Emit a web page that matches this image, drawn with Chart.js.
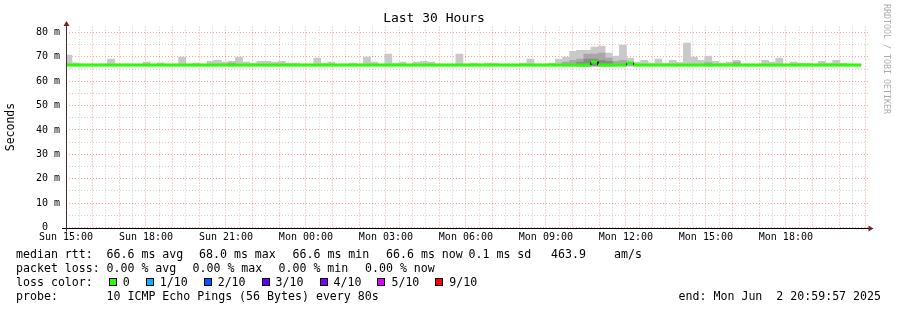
<!DOCTYPE html>
<html>
<head>
<meta charset="utf-8">
<title>Last 30 Hours</title>
<script src="https://cdn.jsdelivr.net/npm/chart.js@4.4.1/dist/chart.umd.min.js"></script>
<style>
  html, body { margin: 0; padding: 0; background: #fff; }
  #wrap { position: relative; width: 897px; height: 310px; overflow: hidden; }
  #c { position: absolute; left: 0; top: 0; }
  .mono { font-family: 'DejaVu Sans Mono', monospace; color: #000; white-space: pre; }
  .txt { position: absolute; font-size: 11.6px; line-height: 14px; }
  #lossrow { position: absolute; left: 16px; top: 275px; height: 14px; display: flex; align-items: center;
    font-size: 11.6px; line-height: 14px; }
  #lossrow .sq { display: inline-block; box-sizing: border-box; width: 8px; height: 8px;
    border: 1px solid #000; margin-left: 2px; margin-right: 6px; }
  #lossrow .lab { margin-right: 14px; }
  #side { position: absolute; left: 882px; top: 4px; font-size: 8.3px; line-height: 10px;
    color: #acacac; writing-mode: vertical-rl; }
</style>
</head>
<body>
<div id="wrap">
  <canvas id="c" width="897" height="310"></canvas>
  <div id="side" class="mono">RRDTOOL / TOBI OETIKER</div>
  <div id="lossrow" class="mono"></div>
</div>
<script>
// hours after Sun 15:00
const xTickHours = [0, 3, 6, 9, 12, 15, 18, 21, 24, 27]
const xTickLabels = ['Sun 15:00', 'Sun 18:00', 'Sun 21:00', 'Mon 00:00', 'Mon 03:00',
  'Mon 06:00', 'Mon 09:00', 'Mon 12:00', 'Mon 15:00', 'Mon 18:00']
const yTickValues = [0, 10, 20, 30, 40, 50, 60, 70, 80]
const yTickLabels = ['0  ', '10 m', '20 m', '30 m', '40 m', '50 m', '60 m', '70 m', '80 m']

// 16 minute bins, values in ms
const binStartHour = -0.045
const binHours = 16 / 60
const smokeFloor = 66.3
const smokeMax = [
  70.7, 67.5, 67.0, 67.0, 67.0, 67.0, 69.1, 67.0, 67.0, 67.0,
  67.0, 67.8, 67.0, 67.5, 67.0, 67.0, 69.9, 67.0, 67.4, 67.0,
  68.2, 68.6, 67.8, 68.2, 69.9, 67.8, 67.4, 68.2, 68.2, 67.8,
  68.2, 67.4, 67.4, 67.0, 67.0, 69.5, 67.4, 67.8, 67.0, 67.0,
  67.4, 67.0, 69.9, 67.8, 67.0, 71.1, 67.4, 67.8, 67.0, 67.8,
  68.2, 67.8, 67.0, 67.0, 67.0, 71.1, 67.0, 67.4, 67.0, 67.4,
  67.4, 67.0, 67.0, 67.0, 67.4, 69.1, 67.0, 67.0, 67.4, 69.1,
  69.9, 72.3, 72.7, 72.7, 74.0, 74.4, 71.5, 70.3, 74.8, 69.5,
  67.8, 68.6, 67.4, 69.1, 67.4, 68.6, 67.6, 75.6, 69.9, 68.6,
  70.3, 68.2, 67.4, 67.8, 68.6, 67.0, 67.0, 67.0, 68.6, 67.8,
  69.5, 67.0, 67.8, 67.4, 67.4, 67.0, 68.2, 67.4, 68.6, 67.4,
  67.0, 67.0
]
const midBins = [23, 70, 71, 72, 73, 74, 75, 76, 77, 78, 79, 90, 94]
const midTops = [67.4, 67.8, 68.6, 69.1, 71.1, 71.1, 71.5, 69.5, 68.2, 68.6, 67.4, 67.6, 67.8]
const coreBins = [72, 73, 74, 75, 76]
const coreTops = [67.8, 69.1, 69.1, 68.6, 68.2]
const medianRtt = [
  66.6, 66.6, 66.6, 66.6, 66.6, 66.6, 66.6, 66.6, 66.6, 66.6,
  66.6, 66.6, 66.6, 66.6, 66.6, 66.6, 66.6, 66.6, 66.6, 66.6,
  66.6, 66.6, 66.6, 66.6, 66.6, 66.6, 66.6, 66.6, 66.6, 66.6,
  66.6, 66.6, 66.6, 66.6, 66.6, 66.6, 66.6, 66.6, 66.6, 66.6,
  66.6, 66.6, 66.6, 66.6, 66.6, 66.6, 66.6, 66.6, 66.6, 66.6,
  66.6, 66.6, 66.6, 66.6, 66.6, 66.6, 66.6, 66.6, 66.6, 66.6,
  66.6, 66.6, 66.6, 66.6, 66.6, 66.6, 66.6, 66.6, 66.6, 66.6,
  66.6, 66.6, 66.6, 66.6, 68.0, 66.6, 66.6, 66.6, 66.6, 67.5,
  66.6, 66.6, 66.6, 66.6, 66.6, 66.6, 66.6, 66.6, 66.6, 66.6,
  66.6, 66.6, 66.6, 66.6, 66.6, 66.6, 66.6, 66.6, 66.6, 66.6,
  66.6, 66.6, 66.6, 66.6, 66.6, 66.6, 66.6, 66.6, 66.6, 66.6,
  66.6, 66.6
]

const rttStats = [66.6, 68.0, 66.6, 66.6]   // avg max min now
const rttSd = 0.1
const rttAmS = 463.9
const lossStats = [0, 0, 0, 0]
const lossLabels = ['0', '1/10', '2/10', '3/10', '4/10', '5/10', '9/10']
const lossColors = ['#26ff00', '#00b8ff', '#0059ff', '#5e00ff', '#7e00ff', '#dd00ff', '#ff0000']
const probeText = '10 ICMP Echo Pings (56 Bytes) every 80s'
const endText = 'end: Mon Jun  2 20:59:57 2025'

const FONT = "'DejaVu Sans Mono', monospace"
const edge = i => binStartHour + i * binHours
const mid = i => binStartHour + (i + 0.5) * binHours

const lightBars = smokeMax.map((v, i) => ({ x: mid(i), y: [smokeFloor, v] }))
const midBars = midBins.map((b, i) => ({ x: mid(b), y: [smokeFloor, midTops[i]] }))
const coreBars = coreBins.map((b, i) => ({ x: mid(b), y: [smokeFloor, coreTops[i]] }))

const medPts = []
medianRtt.forEach((v, i) => {
  medPts.push({ x: edge(i), y: v }, { x: edge(i + 1), y: v })
})
const isStep = c => Math.abs(c.p0.parsed.x - c.p1.parsed.x) < 1e-9 && c.p0.parsed.y !== c.p1.parsed.y

const gridRed = 'rgba(255,0,0,0.38)'
const gridGray = 'rgba(110,110,110,0.32)'

const bar = (data, color, order) => ({
  type: 'bar', data, backgroundColor: color, borderWidth: 0, grouped: false,
  barPercentage: 1, categoryPercentage: 1, order
})

const axesPlugin = {
  id: 'axes',
  afterDraw(chart) {
    const { ctx, chartArea: a } = chart
    const xl = Math.round(a.left) + 0.5
    const yb = Math.round(a.bottom) + 0.5
    ctx.save()
    ctx.lineWidth = 1
    ctx.strokeStyle = '#000'
    ctx.beginPath()
    ctx.moveTo(a.left - 4, yb)
    ctx.lineTo(a.right + 1, yb)
    ctx.stroke()
    ctx.strokeStyle = '#4a2a2a'
    ctx.beginPath()
    ctx.moveTo(xl, yb + 3)
    ctx.lineTo(xl, a.top - 1)
    ctx.stroke()
    ctx.fillStyle = '#7f1f1f'
    ctx.beginPath()
    ctx.moveTo(a.right + 0.5, yb - 3)
    ctx.lineTo(a.right + 5.5, yb)
    ctx.lineTo(a.right + 0.5, yb + 3)
    ctx.fill()
    ctx.beginPath()
    ctx.moveTo(xl - 3, a.top - 0.5)
    ctx.lineTo(xl, a.top - 5.5)
    ctx.lineTo(xl + 3, a.top - 0.5)
    ctx.fill()
    ctx.restore()
  }
}

new Chart(document.getElementById('c'), {
  data: {
    datasets: [
      {
        type: 'line', data: medPts, borderColor: '#26ff00', borderWidth: 3,
        pointRadius: 0, tension: 0, order: 0,
        segment: {
          borderColor: c => isStep(c) ? '#000' : undefined,
          borderWidth: c => isStep(c) ? 1 : undefined
        }
      },
      bar(coreBars, '#8a8a8a', 1),
      bar(midBars, '#a8a8a8', 2),
      bar(lightBars, '#c9c9c9', 3)
    ]
  },
  options: {
    responsive: false,
    animation: false,
    devicePixelRatio: 1,
    events: [],
    layout: { padding: { left: 0, right: 29, top: 0, bottom: 0 } },
    plugins: {
      legend: { display: false },
      tooltip: { enabled: false },
      title: {
        display: true, text: 'Last 30 Hours', color: '#000',
        font: { family: FONT, size: 13, weight: 'normal' },
        padding: { top: 11, bottom: 0 }
      }
    },
    scales: {
      x: {
        type: 'linear', min: 0, max: 30.08, bounds: 'data', offset: false,
        afterFit: s => { s.height = 82.5 },
        grid: { offset: false, color: c => c.tick && c.tick.value % 1 === 0 ? gridRed : gridGray, drawTicks: false, borderDash: [1, 2] },
        border: { display: false, dash: [1, 2] },
        ticks: {
          stepSize: 0.5, includeBounds: false, autoSkip: false, maxRotation: 0, padding: 4,
          color: '#000', font: { family: FONT, size: 10 },
          callback: v => { const k = xTickHours.indexOf(v); return k < 0 ? '' : xTickLabels[k] }
        }
      },
      y: {
        type: 'linear', min: 0, max: 82.4, bounds: 'data',
        afterFit: s => { s.width = 66 },
        grid: { color: c => c.tick && c.tick.value % 10 === 0 ? gridRed : gridGray, drawTicks: false, borderDash: [1, 2] },
        border: { display: false, dash: [1, 2] },
        title: {
          display: true, text: 'Seconds', color: '#000',
          font: { family: FONT, size: 11.5 }, padding: { top: 4, bottom: 0 }
        },
        ticks: {
          stepSize: 5, includeBounds: false, autoSkip: false, padding: 6,
          color: '#000', font: { family: FONT, size: 10 },
          callback: v => { const k = yTickValues.indexOf(v); return k < 0 ? '' : yTickLabels[k] }
        }
      }
    }
  },
  plugins: [axesPlugin]
})

// legend text below the graph, placed like rrdtool's justified GPRINT items
const f1 = v => v.toFixed(1)
const f2 = v => v.toFixed(2)
const wrap = document.getElementById('wrap')
const put = (text, left, top, right) => {
  const d = document.createElement('div')
  d.className = 'mono txt'
  d.textContent = text
  d.style.top = top + 'px'
  if (right) d.style.right = right + 'px'
  else d.style.left = left + 'px'
  wrap.appendChild(d)
}
put('median rtt:', 16, 247)
put(f1(rttStats[0]) + ' ms avg', 106.5, 247)
put(f1(rttStats[1]) + ' ms max', 199, 247)
put(f1(rttStats[2]) + ' ms min', 292.5, 247)
put(f1(rttStats[3]) + ' ms now', 386, 247)
put(f1(rttSd) + ' ms sd', 468.5, 247)
put(f1(rttAmS), 551, 247)
put('am/s', 614, 247)
put('packet loss:', 16, 261)
put(f2(lossStats[0]) + ' % avg', 106.5, 261)
put(f2(lossStats[1]) + ' % max', 192.5, 261)
put(f2(lossStats[2]) + ' % min', 278.5, 261)
put(f2(lossStats[3]) + ' % now', 365, 261)
document.getElementById('lossrow').innerHTML = '<span>loss color:  </span>' + lossLabels.map((l, i) =>
  `<span class="sq" style="background:${lossColors[i]}"></span><span class="lab">${l}</span>`).join('')
put('probe:', 16, 289)
put(probeText, 106.5, 289)
put(endText, 0, 289, 16)
</script>
</body>
</html>
